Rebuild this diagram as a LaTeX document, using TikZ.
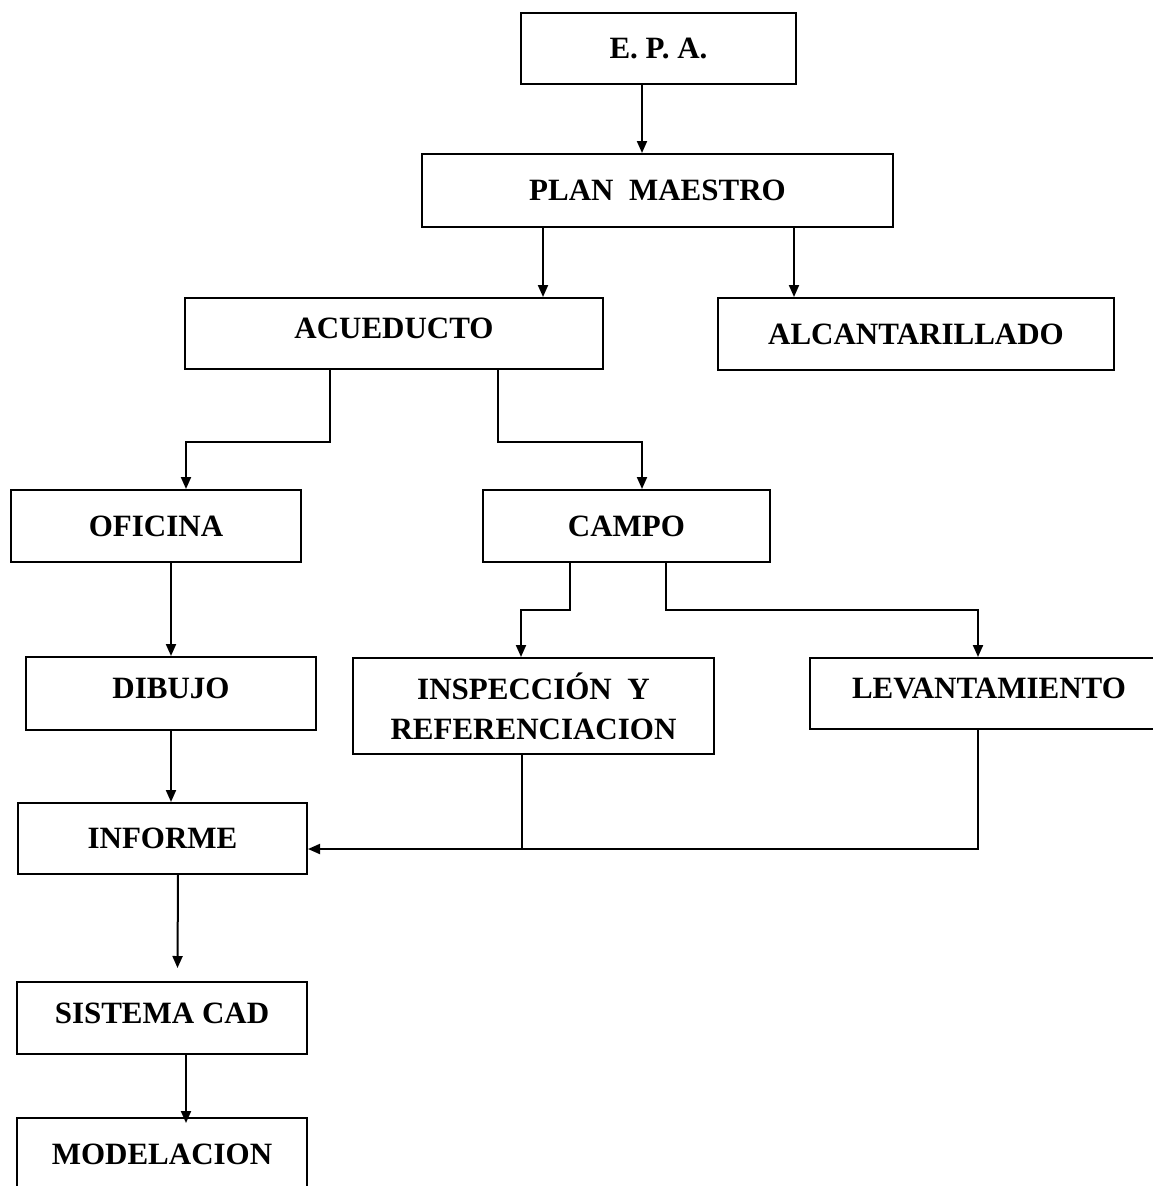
\documentclass[tikz,border=0pt]{standalone}
\usepackage{fontspec}
\setmainfont{Liberation Serif}
\usetikzlibrary{arrows.meta}
\begin{document}
\begin{tikzpicture}[x=1pt,y=-1pt,
  box/.style={draw,line width=2pt,rectangle,inner sep=0pt,align=center,
    font=\fontsize{31}{40}\selectfont\bfseries},
  up/.style={text depth=10pt},
  conn/.style={line width=2pt},
  arr/.style={conn,-{Triangle[length=12pt,width=10pt]}}]
\useasboundingbox (0,0) rectangle (1153,1186);
\fill[white] (0,0) rectangle (1153,1186);
% nodes
\node[box,minimum width=275pt,minimum height=71pt] (epa) at (658.5,48.5) {E. P. A.};
\node[box,minimum width=471pt,minimum height=73pt] (plan) at (657.5,190.5) {PLAN\ \ MAESTRO};
\node[box,up,minimum width=418pt,minimum height=71pt] (acu) at (394,333.5) {ACUEDUCTO};
\node[box,minimum width=396pt,minimum height=72pt] (alc) at (916,334) {ALCANTARILLADO};
\node[box,minimum width=290pt,minimum height=72pt] (ofi) at (156,526) {OFICINA};
\node[box,minimum width=287pt,minimum height=72pt] (campo) at (626.5,526) {CAMPO};
\node[box,up,minimum width=290pt,minimum height=73pt] (dib) at (171,693.5) {DIBUJO};
\node[box,minimum width=361pt,minimum height=96pt] (insp) at (533.5,706) {INSPECCIÓN\ \ Y\\REFERENCIACION};
\node[box,up,minimum width=358pt,minimum height=71pt] (lev) at (989,693.5) {LEVANTAMIENTO};
\node[box,minimum width=289pt,minimum height=71pt] (inf) at (162.5,838.5) {INFORME};
\node[box,up,minimum width=290pt,minimum height=72pt] (cad) at (162,1018) {SISTEMA CAD};
\node[box,minimum width=290pt,minimum height=72pt] (mod) at (162,1154) {MODELACION};
% helper coordinates
\coordinate (join) at ([yshift=-10.5pt]inf.east);
\coordinate (insB) at ([xshift=-11.5pt]insp.south);
\coordinate (levB) at ([xshift=-11pt]lev.south);
\coordinate (epaB) at ([xshift=-16.5pt]epa.south);
\coordinate (acuT) at ([xshift=149pt]acu.north);
\coordinate (alcT) at ([xshift=-122pt]alc.north);
% connectors
\draw[arr] (epaB) -- (epaB |- plan.north);
\draw[arr] (acuT |- plan.south) -- (acuT);
\draw[arr] (alcT |- plan.south) -- (alcT);
\draw[arr] ([xshift=-64pt]acu.south) -- ++(0pt,-72pt) -| ([xshift=30pt]ofi.north);
\draw[arr] ([xshift=104pt]acu.south) -- ++(0pt,-72pt) -| ([xshift=15.5pt]campo.north);
\draw[arr] ([xshift=15pt]ofi.south) -- (dib.north);
\draw[arr] ([xshift=-56.5pt]campo.south) -- ++(0pt,-47pt) -| ([xshift=-12.5pt]insp.north);
\draw[arr] ([xshift=39.5pt]campo.south) -- ++(0pt,-47pt) -| ([xshift=-11pt]lev.north);
\draw[arr] (dib.south) -- (dib.south |- inf.north);
\draw[arr] (levB) |- (join);
\draw[conn] (insB) -- (insB |- join);
\draw[arr] ([xshift=15.5pt]inf.south) -- ([xshift=15.5pt,yshift=13pt]cad.north);
\draw[arr] ([xshift=24pt]cad.south) -- ([xshift=24pt,yshift=-6pt]mod.north);
\end{tikzpicture}
\end{document}
